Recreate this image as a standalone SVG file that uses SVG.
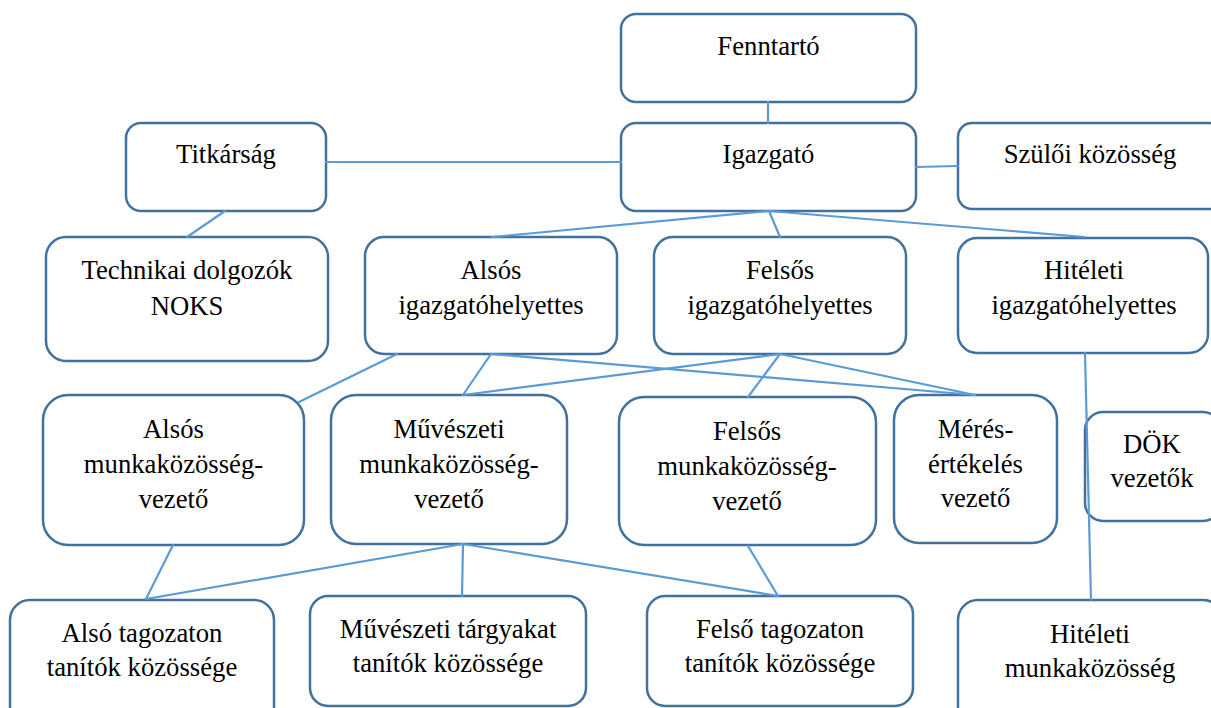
<svg xmlns="http://www.w3.org/2000/svg" width="1211" height="708" viewBox="0 0 1211 708">
<style>
.box{fill:#fff;stroke:#41719C;stroke-width:2.5}
.t{font-family:'Liberation Serif','Times New Roman','DejaVu Serif',serif;font-size:26.7px;fill:#000;text-anchor:middle}
.c line{stroke:#5B9BD5;stroke-width:2.2;stroke-linecap:round}
</style>
<rect width="1211" height="708" fill="#fff"/>
<g id="fenntarto"><rect class="box" x="621" y="14" width="295" height="88" rx="15"/><text class="t" x="768.5" y="55">Fenntartó</text></g>
<g id="igazgato"><rect class="box" x="621" y="123" width="295" height="88" rx="15"/><text class="t" x="768.5" y="163">Igazgató</text></g>
<g id="titkarsag"><rect class="box" x="126" y="123" width="200" height="88" rx="15"/><text class="t" x="226" y="163">Titkárság</text></g>
<g id="szuloi"><rect class="box" x="958" y="123" width="265" height="86" rx="14"/><text class="t" x="1090" y="163">Szülői közösség</text></g>
<g id="technikai"><rect class="box" x="46" y="237" width="282" height="124" rx="20"/><text class="t" x="187" y="279">Technikai dolgozók</text><text class="t" x="187" y="315">NOKS</text></g>
<g id="alsos-ih"><rect class="box" x="365" y="237" width="252" height="117" rx="19"/><text class="t" x="491" y="279">Alsós</text><text class="t" x="491" y="314">igazgatóhelyettes</text></g>
<g id="felsos-ih"><rect class="box" x="654" y="237" width="252" height="117" rx="19"/><text class="t" x="780" y="279">Felsős</text><text class="t" x="780" y="314">igazgatóhelyettes</text></g>
<g id="hiteleti-ih"><rect class="box" x="958" y="238" width="250" height="115" rx="19"/><text class="t" x="1084" y="279">Hitéleti</text><text class="t" x="1084" y="314">igazgatóhelyettes</text></g>
<g id="alsos-mkv"><rect class="box" x="43" y="395" width="261" height="150" rx="25"/><text class="t" x="173.5" y="438">Alsós</text><text class="t" x="173.5" y="473">munkaközösség-</text><text class="t" x="173.5" y="508">vezető</text></g>
<g id="muveszeti-mkv"><rect class="box" x="331" y="395" width="236" height="149" rx="25"/><text class="t" x="449" y="438">Művészeti</text><text class="t" x="449" y="473">munkaközösség-</text><text class="t" x="449" y="508">vezető</text></g>
<g id="felsos-mkv"><rect class="box" x="619" y="397" width="257" height="148" rx="25"/><text class="t" x="747" y="440">Felsős</text><text class="t" x="747" y="475">munkaközösség-</text><text class="t" x="747" y="510">vezető</text></g>
<g id="meres"><rect class="box" x="894" y="395" width="163" height="148" rx="25"/><text class="t" x="975.5" y="438">Mérés-</text><text class="t" x="975.5" y="473">értékelés</text><text class="t" x="975.5" y="507">vezető</text></g>
<g id="dok"><rect class="box" x="1085" y="412" width="136" height="109" rx="18"/><text class="t" x="1152" y="453">DÖK</text><text class="t" x="1152" y="487">vezetők</text></g>
<g id="also-tag"><rect class="box" x="10" y="600" width="264" height="130" rx="20"/><text class="t" x="142" y="642">Alsó tagozaton</text><text class="t" x="142" y="676">tanítók közössége</text></g>
<g id="muv-targy"><rect class="box" x="310" y="596" width="276" height="110" rx="18"/><text class="t" x="448" y="638">Művészeti tárgyakat</text><text class="t" x="448" y="672">tanítók közössége</text></g>
<g id="felso-tag"><rect class="box" x="647" y="596" width="266" height="110" rx="18"/><text class="t" x="780" y="638">Felső tagozaton</text><text class="t" x="780" y="672">tanítók közössége</text></g>
<g id="hiteleti-mk"><rect class="box" x="958" y="600" width="265" height="130" rx="20"/><text class="t" x="1090" y="643">Hitéleti</text><text class="t" x="1090" y="677">munkaközösség</text></g>
<g id="connectors" class="c">
<line x1="768" y1="102" x2="768" y2="123"/>
<line x1="326" y1="162" x2="621" y2="162"/>
<line x1="916" y1="167" x2="958" y2="166"/>
<line x1="225" y1="211" x2="187" y2="237"/>
<line x1="769" y1="211" x2="492" y2="237"/>
<line x1="769" y1="211" x2="780" y2="237"/>
<line x1="769" y1="211" x2="1085" y2="237"/>
<line x1="397" y1="354" x2="299" y2="402"/>
<line x1="491" y1="354" x2="463" y2="395"/>
<line x1="491" y1="354" x2="975" y2="395"/>
<line x1="780" y1="354" x2="463" y2="395"/>
<line x1="780" y1="354" x2="748" y2="397"/>
<line x1="780" y1="354" x2="975" y2="395"/>
<line x1="1085" y1="353" x2="1091" y2="600"/>
<line x1="173" y1="545" x2="146" y2="599"/>
<line x1="463" y1="544" x2="146" y2="599"/>
<line x1="463" y1="544" x2="462" y2="596"/>
<line x1="463" y1="544" x2="778" y2="596"/>
<line x1="748" y1="546" x2="778" y2="596"/>
</g>
</svg>
